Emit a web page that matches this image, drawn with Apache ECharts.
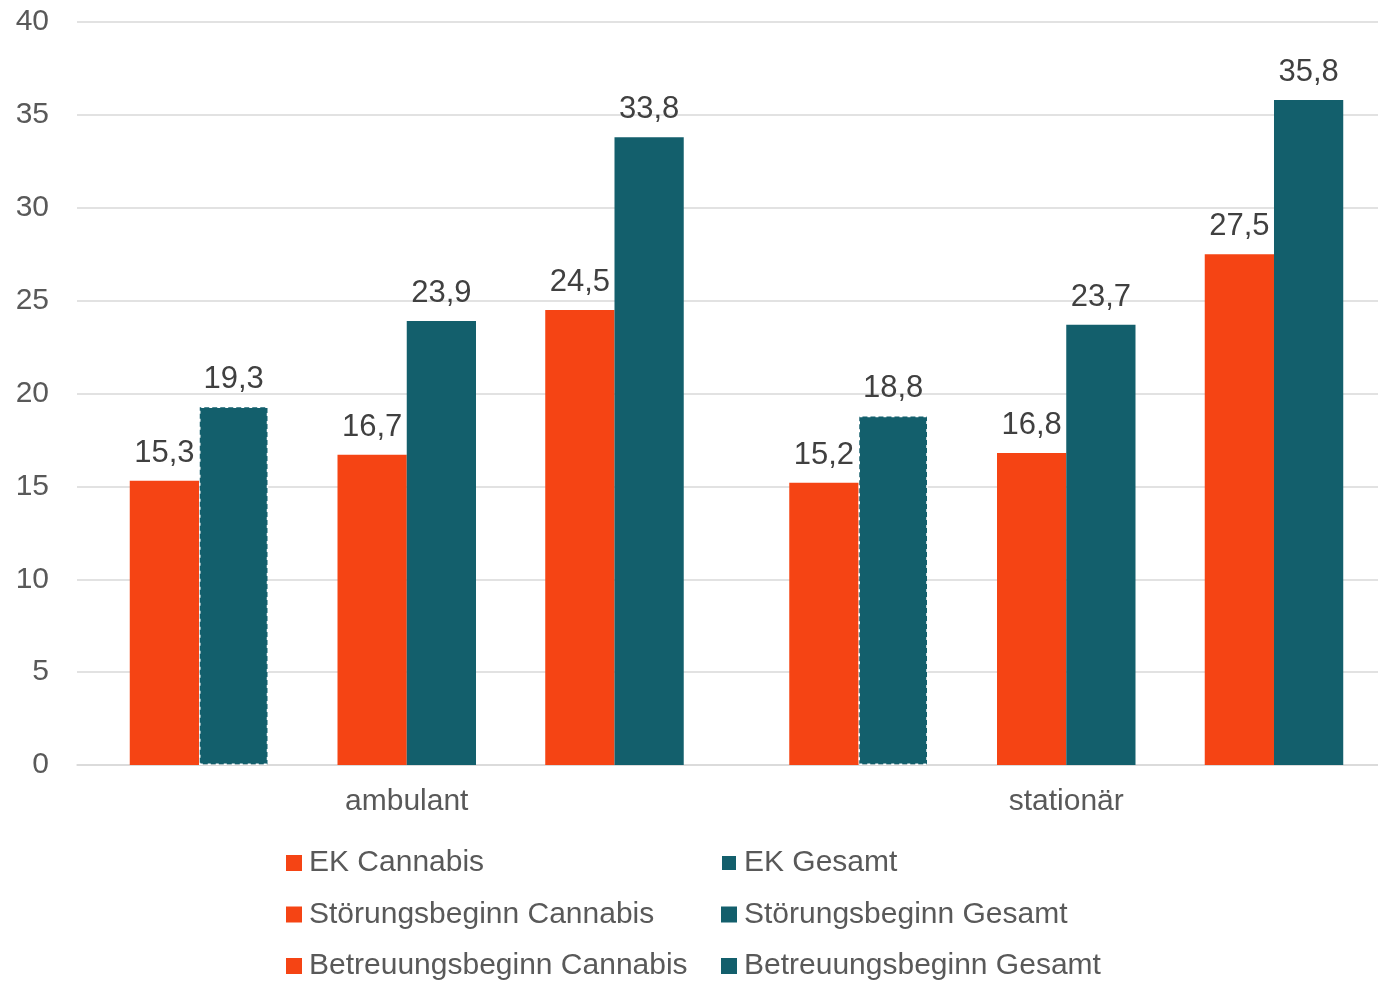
<!DOCTYPE html>
<html>
<head>
<meta charset="utf-8">
<script src="https://cdn.jsdelivr.net/npm/echarts@6/dist/echarts.min.js"></script>
<style>
html,body{margin:0;padding:0;background:#fff;overflow:hidden;width:1378px;height:981px;}
#chart{width:1396px;height:981px;}
</style>
</head>
<body>
<div id="chart"></div>
<script>
const categories = ['ambulant', 'stationär'];
const ekCannabis = [15.3, 15.2];
const ekGesamt = [19.3, 18.8];
const stoerCannabis = [16.7, 16.8];
const stoerGesamt = [23.9, 23.7];
const betrCannabis = [24.5, 27.5];
const betrGesamt = [33.8, 35.8];
const yTicks = [0, 5, 10, 15, 20, 25, 30, 35, 40];

const ORANGE = '#F54414';
const TEAL = '#135F6C';
const FONT = '"Liberation Sans", Arial, sans-serif';

const chart = echarts.init(document.getElementById('chart'), null, {renderer: 'canvas'});

const labelCfg = {
  show: true,
  position: 'top',
  distance: 12,
  fontFamily: FONT,
  fontSize: 31,
  color: '#404040',
  formatter: p => String(p.value).replace('.', ',')
};

function barSeries(name, data, color, extraStyle) {
  return {
    name: name,
    type: 'bar',
    data: data,
    barGap: '0%',
    barCategoryGap: '16%',
    itemStyle: Object.assign({color: color}, extraStyle || {}),
    label: labelCfg,
    emphasis: {disabled: true}
  };
}
function spacer() {
  return {
    name: '',
    type: 'bar',
    data: categories.map(() => '-'),
    barGap: '0%',
    barCategoryGap: '16%',
    silent: true
  };
}

const legendText = {fontFamily: FONT, fontSize: 30, color: '#595959', lineHeight: 30, padding: [0, 0, 0, 2]};

chart.setOption({
  animation: false,
  backgroundColor: '#ffffff',
  grid: {left: 77, top: 22, right: 0, bottom: 216, containLabel: false},
  legend: [
    {
      orient: 'vertical', left: 286, top: 848, height: 200, padding: 0, itemWidth: 16, itemHeight: 16, itemGap: 21.5,
      icon: 'rect',
      data: ['EK Cannabis', 'Störungsbeginn Cannabis', 'Betreuungsbeginn Cannabis'],
      textStyle: legendText, selectedMode: false
    },
    {
      orient: 'vertical', left: 720, top: 848, height: 200, padding: 0, itemWidth: 16, itemHeight: 16, itemGap: 21.5,
      icon: 'rect',
      data: ['EK Gesamt', 'Störungsbeginn Gesamt', 'Betreuungsbeginn Gesamt'],
      textStyle: legendText, selectedMode: false
    }
  ],
  xAxis: {
    type: 'category',
    data: categories,
    axisTick: {show: false},
    axisLine: {lineStyle: {color: '#D9D9D9', width: 1.5}},
    axisLabel: {fontFamily: FONT, fontSize: 30, color: '#595959', margin: 22}
  },
  yAxis: {
    type: 'value',
    min: yTicks[0],
    max: yTicks[yTicks.length - 1],
    interval: 5,
    axisLine: {show: false},
    axisTick: {show: false},
    splitLine: {lineStyle: {color: '#D9D9D9', width: 1.5}},
    axisLabel: {fontFamily: FONT, fontSize: 30, color: '#595959', margin: 28}
  },
  series: [
    barSeries('EK Cannabis', ekCannabis, ORANGE),
    barSeries('EK Gesamt', ekGesamt, TEAL, {borderColor: '#ffffff', borderWidth: 1.5, borderType: [3, 5]}),
    spacer(),
    barSeries('Störungsbeginn Cannabis', stoerCannabis, ORANGE),
    barSeries('Störungsbeginn Gesamt', stoerGesamt, TEAL),
    spacer(),
    barSeries('Betreuungsbeginn Cannabis', betrCannabis, ORANGE),
    barSeries('Betreuungsbeginn Gesamt', betrGesamt, TEAL)
  ]
});
</script>
</body>
</html>
